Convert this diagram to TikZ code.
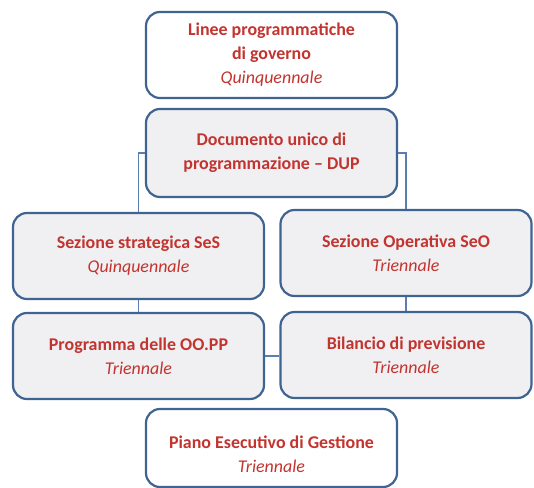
\documentclass[tikz,border=0pt]{standalone}
\usepackage{fontspec}
\setmainfont{Carlito}
\usepackage{tikz}
\usetikzlibrary{positioning, calc}
\definecolor{boxline}{HTML}{3F6492}
\definecolor{boxfill}{HTML}{F0F0F3}
\definecolor{txtred}{HTML}{C2342F}
\definecolor{linkline}{HTML}{5A7FAE}

\begin{document}
\begin{tikzpicture}[x=1bp,y=-1bp,
        box/.style={draw=boxline, line width=2.2bp, rounded corners=14bp, fill=boxfill,
            align=center, text=txtred, font=\fontsize{18}{24}\selectfont, inner sep=0pt,
            minimum width=251bp, minimum height=86bp},
        whitebox/.style={box, fill=white},
        link/.style={draw=linkline, line width=1.1bp}]
        \useasboundingbox (0,0) rectangle (534,488);

        \node[whitebox] (linee) at (271.5,55) {\textbf{Linee programmatiche}\\\textbf{di governo}\\\textit{Quinquennale}};
        \node[box, minimum height=88bp] (dup) at (271.5,153) {\textbf{Documento unico di}\\\textbf{programmazione -- DUP}};
        \node[box] (ses) at (138.5,256) {\textbf{Sezione strategica SeS}\\\textit{Quinquennale}};
        \node[box] (seo) at (406,253) {\textbf{Sezione Operativa SeO}\\\textit{Triennale}};
        \node[box] (oopp) at (138.5,356) {\textbf{Programma delle OO.PP}\\\textit{Triennale}};
        \node[box] (bil) at (406,355) {\textbf{Bilancio di previsione}\\\textit{Triennale}};
        \node[whitebox, minimum height=78bp] (peg) at (271.5,448) {\rule{0pt}{25bp}\textbf{Piano Esecutivo di Gestione}\\\textit{Triennale}};

        \draw[link] (dup.west) -| (ses.north);
        \draw[link] (dup.east) -| (seo.north);
        \draw[link] (ses.south) -- (oopp.north);
        \draw[link] (seo.south) -- (bil.north);
        \draw[link] (oopp.east) -- (oopp.east -| bil.west);

    \end{tikzpicture}
\end{document}
